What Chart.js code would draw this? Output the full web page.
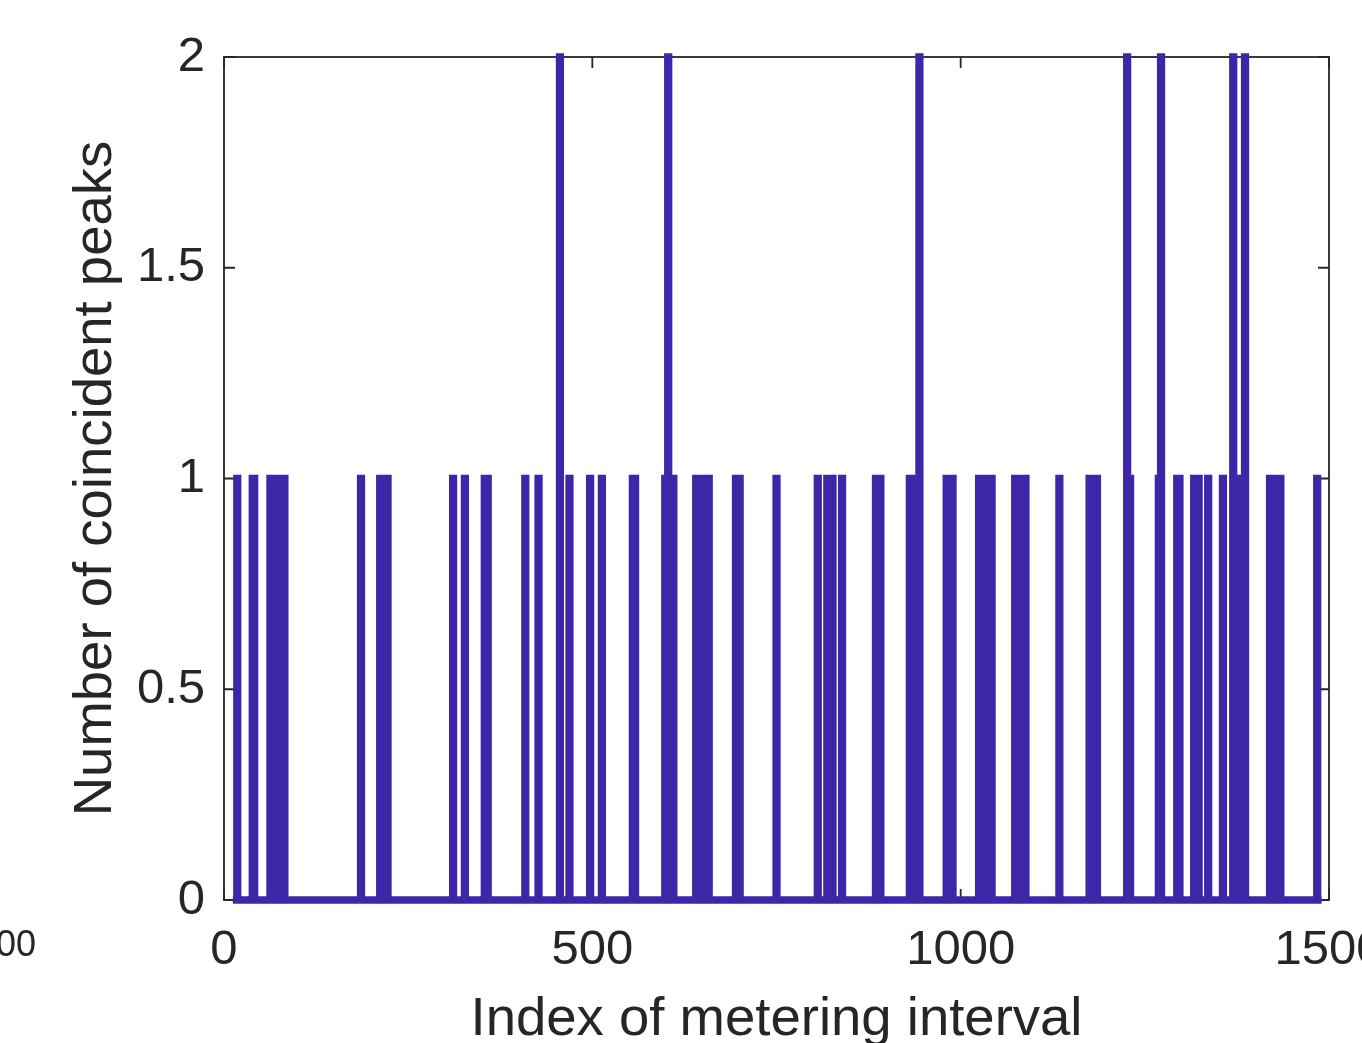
<!DOCTYPE html>
<html>
<head>
<meta charset="utf-8">
<script src="https://cdn.jsdelivr.net/npm/chart.js@4/dist/chart.umd.min.js"></script>
<style>
  html, body { margin: 0; padding: 0; background: #fff; overflow: hidden; }
  #wrap { width: 1362px; height: 1043px; position: relative; }
</style>
</head>
<body>
<div id="wrap"><canvas id="peaks-chart"></canvas></div>
<script>
// metering intervals where a coincident peak was seen, and how many
const peakIndex = [
  18, 39, 41, 63, 67, 71, 75, 79, 82, 186, 212, 217, 222, 311, 327, 354, 358,
  409, 427, 456, 469, 497, 513, 555, 558, 599, 603, 606, 610,
  641, 645, 649, 654, 658, 695, 700, 750, 806, 819, 826, 839, 885, 891,
  931, 935, 939, 944, 981, 985, 989, 1025, 1029, 1033, 1038, 1042,
  1074, 1078, 1083, 1088, 1134, 1175, 1180, 1185, 1226, 1230, 1269, 1272,
  1294, 1297, 1317, 1323, 1336, 1356, 1370, 1375, 1381, 1386,
  1420, 1424, 1429, 1434, 1484
];
const peakCount = [
  1, 1, 1, 1, 1, 1, 1, 1, 1, 1, 1, 1, 1, 1, 1, 1, 1,
  1, 1, 2, 1, 1, 1, 1, 1, 1, 2, 1, 1,
  1, 1, 1, 1, 1, 1, 1, 1, 1, 1, 1, 1, 1, 1,
  1, 1, 1, 2, 1, 1, 1, 1, 1, 1, 1, 1,
  1, 1, 1, 1, 1, 1, 1, 1, 2, 1, 1, 2,
  1, 1, 1, 1, 1, 1, 2, 1, 1, 2,
  1, 1, 1, 1, 1
];
const firstInterval = 12;
const lastInterval = 1490;

const xTickValues = [0, 500, 1000, 1500];
const xTickLabels = ['0', '500', '1000', '1500'];
const yTickValues = [0, 0.5, 1, 1.5, 2];
const yTickLabels = ['0', '0.5', '1', '1.5', '2'];

const axisColor = '#262626';
const lineColor = '#3E26A8';

function buildSeries() {
  let counts = new Map();
  peakIndex.forEach((idx, i) => counts.set(idx, peakCount[i]));
  let pts = [];
  for (let x = firstInterval; x <= lastInterval; x++) {
    pts.push({ x: x, y: counts.get(x) || 0 });
  }
  return pts;
}

// box around the plot with inward ticks on all four sides
const boxPlugin = {
  id: 'box',
  beforeDatasetsDraw(chart) {
    const { ctx, chartArea: a, scales } = chart;
    const tl = 11;
    ctx.save();
    ctx.strokeStyle = axisColor;
    ctx.lineWidth = 1.8;
    ctx.strokeRect(a.left, a.top, a.right - a.left, a.bottom - a.top);
    ctx.beginPath();
    scales.x.ticks.forEach(t => {
      const px = scales.x.getPixelForValue(t.value);
      ctx.moveTo(px, a.bottom); ctx.lineTo(px, a.bottom - tl);
      ctx.moveTo(px, a.top); ctx.lineTo(px, a.top + tl);
    });
    scales.y.ticks.forEach(t => {
      const py = scales.y.getPixelForValue(t.value);
      ctx.moveTo(a.left, py); ctx.lineTo(a.left + tl, py);
      ctx.moveTo(a.right, py); ctx.lineTo(a.right - tl, py);
    });
    ctx.stroke();
    ctx.restore();
  },
  afterDraw(chart) {
    // tick label of the neighbouring panel, cut by the page edge
    const ctx = chart.ctx;
    ctx.save();
    ctx.fillStyle = axisColor;
    ctx.font = '36px "Liberation Sans", Arial, sans-serif';
    ctx.textAlign = 'right';
    ctx.textBaseline = 'alphabetic';
    ctx.fillText('1500', 36, 956);
    ctx.restore();
  }
};

const fontName = '"Liberation Sans", Arial, sans-serif';
const tickFont = { family: fontName, size: 49 };

const config = {
  type: 'line',
  data: {
    datasets: [{
      data: buildSeries(),
      borderColor: lineColor,
      borderWidth: 7.5,
      stepped: 'middle',
      pointRadius: 0,
      fill: false,
      clip: 10
    }]
  },
  options: {
    responsive: true,
    maintainAspectRatio: false,
    animation: false,
    events: [],
    layout: { padding: { top: 57, right: 33, left: 0, bottom: 0 } },
    plugins: { legend: { display: false }, tooltip: { enabled: false } },
    scales: {
      x: {
        type: 'linear',
        min: 0,
        max: 1500,
        afterBuildTicks: s => { s.ticks = xTickValues.map(v => ({ value: v })); },
        afterFit: s => { s.height = 143; s.paddingLeft = 0; s.paddingRight = 0; },
        grid: { display: false, drawTicks: false, tickLength: 0 },
        border: { display: false },
        ticks: {
          padding: 21,
          maxRotation: 0,
          autoSkip: false,
          color: axisColor,
          font: tickFont,
          callback: (v, i) => xTickLabels[i]
        },
        title: {
          display: true,
          text: 'Index of metering interval',
          color: axisColor,
          font: { family: fontName, size: 54.5, lineHeight: 0.85 },
          padding: { top: 0, bottom: 0 }
        }
      },
      y: {
        min: 0,
        max: 2,
        afterBuildTicks: s => { s.ticks = yTickValues.map(v => ({ value: v })); },
        afterFit: s => { s.width = 224; s.paddingTop = 0; s.paddingBottom = 0; },
        grid: { display: false, drawTicks: false, tickLength: 0 },
        border: { display: false },
        ticks: {
          padding: 19,
          autoSkip: false,
          color: axisColor,
          font: tickFont,
          callback: (v, i) => yTickLabels[i]
        },
        title: {
          display: true,
          text: 'Number of coincident peaks',
          color: axisColor,
          font: { family: fontName, size: 54.5, lineHeight: 1 },
          padding: { top: 69, bottom: 0 }
        }
      }
    }
  },
  plugins: [boxPlugin]
};

const peaksChart = new Chart(document.getElementById('peaks-chart'), config);
</script>
</body>
</html>
